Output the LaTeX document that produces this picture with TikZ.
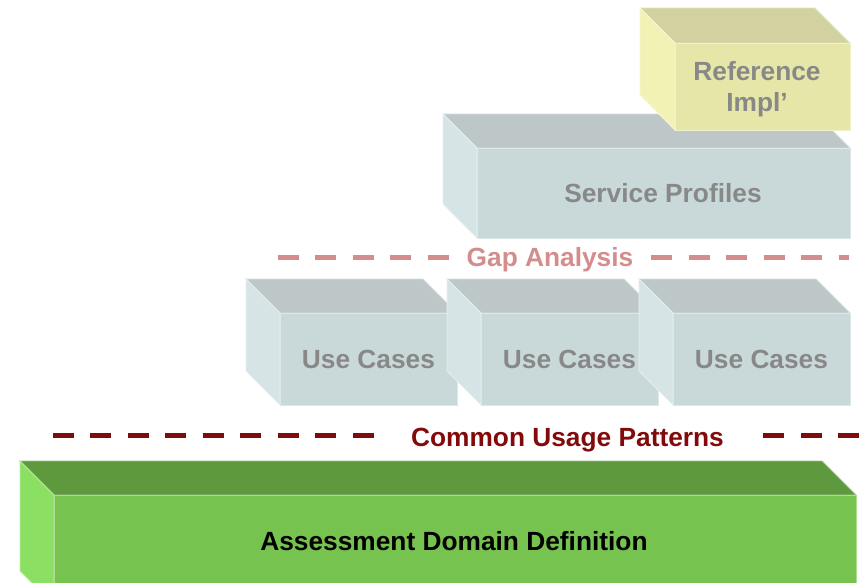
\documentclass[tikz,border=0pt]{standalone}
\usepackage{fontspec}
\setmainfont{Liberation Sans}
\usetikzlibrary{calc}
\definecolor{GreyTopClr}{HTML}{BDC7C8}
\definecolor{GreyFrontClr}{HTML}{C9D8D9}
\definecolor{GreySideClr}{HTML}{D6E4E5}
\definecolor{YellowTopClr}{HTML}{D2D2A0}
\definecolor{YellowFrontClr}{HTML}{E6E6A8}
\definecolor{YellowSideClr}{HTML}{F2F2B4}
\definecolor{GreenTopClr}{HTML}{5E9A3D}
\definecolor{GreenFrontClr}{HTML}{77C34F}
\definecolor{GreenSideClr}{HTML}{8BE063}
\definecolor{BoxTextClr}{HTML}{888888}
\definecolor{GapClr}{HTML}{D48C8C}
\definecolor{CommonClr}{HTML}{820A0A}

% a block: front top-left corner (#1,#2), width #3, height #4, depth #5,
% colours of top, front and side faces #6, #7, #8
\newcommand\DrawBlock[8]{%
  \fill[#6,draw=white!40!#6,line width=.8pt] (#1-#5,#2-#5) -- (#1+#3-#5,#2-#5) -- (#1+#3,#2) -- (#1,#2) -- cycle;
  \fill[#8,draw=white!40!#8,line width=.8pt] (#1-#5,#2-#5) -- (#1,#2) -- (#1,#2+#4) -- (#1-#5,#2+#4-#5) -- cycle;
  \fill[#7,draw=white!40!#7,line width=.8pt] (#1,#2) rectangle (#1+#3,#2+#4);
}

\tikzset{
  blocktext/.style={font=\fontsize{26.3}{31}\selectfont\bfseries,text=BoxTextClr,align=center,inner sep=0pt},
  gapline/.style={draw=GapClr,line width=5pt,dash pattern=on 21pt off 16.5pt},
  commonline/.style={draw=CommonClr,line width=5pt,dash pattern=on 21pt off 16.5pt}
}

\begin{document}
\begin{tikzpicture}[x=1pt,y=-1pt]
\useasboundingbox (0,0) rectangle (864,582);
\clip (0,0) rectangle (864,582);

% Upper blocks.
\DrawBlock{477}{148}{373}{90}{34}{GreyTopClr}{GreyFrontClr}{GreySideClr}
\DrawBlock{675}{43}{175}{87}{35}{YellowTopClr}{YellowFrontClr}{YellowSideClr}

\node[blocktext] (refimpl) at (757,89) {Reference\\Impl’};
\node[blocktext] (profiles) at (663,193) {Service Profiles};

% Gap analysis line.
\node[font=\fontsize{26.3}{31}\selectfont\bfseries,text=GapClr,inner sep=0pt,anchor=base] (gap) at (550,266) {Gap Analysis};
\coordinate (gapA) at (277.6,257);
\coordinate (gapB) at (448.6,257);
\coordinate (gapC) at (651,257);
\coordinate (gapD) at (849,257);
\draw[gapline] (gapA) -- (gapB);
\draw[gapline] (gapC) -- (gapD);

% Use cases.
\foreach \fx/\nm in {280/usecasesA,481/usecasesB,673/usecasesC}{
  \DrawBlock{\fx}{313}{177}{92}{34}{GreyTopClr}{GreyFrontClr}{GreySideClr}
  \node[blocktext] (\nm) at (\fx+88.5,359) {Use Cases};
}

% Common usage line.
\node[font=\fontsize{26.3}{31}\selectfont\bfseries,text=CommonClr,inner sep=0pt,anchor=base] (common) at (567.5,446) {Common Usage Patterns};
\coordinate (comA) at (52.7,435);
\coordinate (comB) at (373.7,435);
\coordinate (comC) at (763,435);
\coordinate (comD) at (864,435);
\draw[commonline] (comA) -- (comB);
\draw[commonline] (comC) -- (comD);

% Domain block.
\DrawBlock{54}{495}{802}{110}{34}{GreenTopClr}{GreenFrontClr}{GreenSideClr}
\node[blocktext,text=black] (domain) at (454,541) {Assessment Domain Definition};

\end{tikzpicture}
\end{document}
